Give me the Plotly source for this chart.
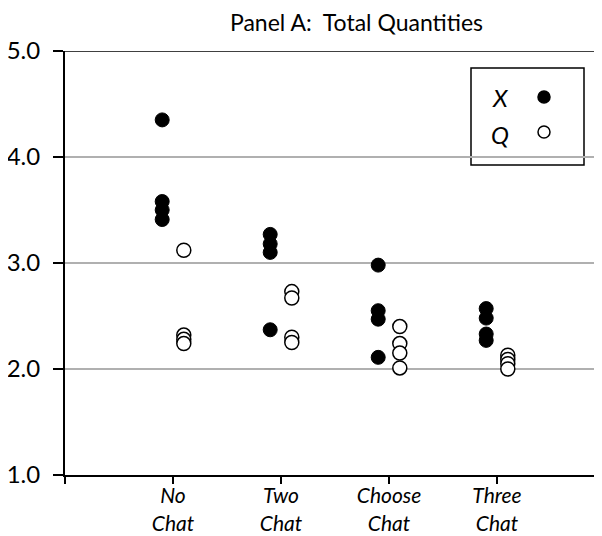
import plotly.graph_objects as go

categories = ["No<br>Chat", "Two<br>Chat", "Choose<br>Chat", "Three<br>Chat"]
x_values = [
    [4.35, 3.58, 3.50, 3.41],
    [3.27, 3.18, 3.10, 2.37],
    [2.98, 2.55, 2.47, 2.11],
    [2.57, 2.48, 2.33, 2.27],
]
q_values = [
    [3.12, 2.32, 2.28, 2.24],
    [2.73, 2.67, 2.30, 2.25],
    [2.40, 2.24, 2.15, 2.01],
    [2.13, 2.09, 2.05, 2.00],
]
y_ticks = [1.0, 2.0, 3.0, 4.0, 5.0]
y_tick_text = ["1.0", "2.0", "3.0", "4.0", "5.0"]

FONT = "Lato"
off = 0.1

# the page body has an 8px margin, so the figure is drawn 8px right/down
OFF = 8
PAGE_W, PAGE_H = 602, 536
W, H = PAGE_W - OFF, PAGE_H - OFF
AX_L, AX_T, AX_B = 65, 51, 475          # page pixel positions of plot edges
L, T = AX_L - OFF, AX_T - OFF
B = PAGE_H - AX_B
R = 0
PW, PH = W - L - R, H - T - B


def px(x):
    return (x - AX_L) / PW


def py(y):
    return (AX_B - y) / PH


xs_x, ys_x, xs_q, ys_q = [], [], [], []
for i, (xv, qv) in enumerate(zip(x_values, q_values)):
    for v in xv:
        xs_x.append(i + 1 - off); ys_x.append(v)
    for v in qv:
        xs_q.append(i + 1 + off); ys_q.append(v)

fig = go.Figure()
fig.add_trace(go.Scatter(x=xs_x, y=ys_x, mode="markers", name="X",
                         marker=dict(size=14, color="black", line=dict(color="black", width=1)),
                         showlegend=False))
fig.add_trace(go.Scatter(x=xs_q, y=ys_q, mode="markers", name="Q",
                         marker=dict(size=14, color="white", line=dict(color="black", width=1.5)),
                         showlegend=False))

# legend drawn manually (text left, marker right)
fig.add_trace(go.Scatter(x=[px(544), px(544)], y=[py(97), py(132)], mode="markers",
                         xaxis="x2", yaxis="y2", showlegend=False, hoverinfo="skip",
                         marker=dict(size=12, color=["black", "white"],
                                     line=dict(color="black", width=1.5))))

fig.add_shape(type="rect", xref="paper", yref="paper",
              x0=px(471), x1=px(584), y0=py(165), y1=py(68),
              line=dict(color="black", width=1.5), fillcolor="white", layer="below")
fig.add_annotation(xref="paper", yref="paper", x=px(500), y=py(98),
                   xanchor="center", yanchor="middle",
                   text="<i>X</i>", showarrow=False, font=dict(family=FONT, size=24, color="black"))
fig.add_annotation(xref="paper", yref="paper", x=px(500), y=py(134),
                   xanchor="center", yanchor="middle",
                   text="<i>Q</i>", showarrow=False, font=dict(family=FONT, size=24, color="black"))

# title as an annotation, kept inside the figure
fig.add_annotation(xref="paper", yref="paper", x=px(356), y=py(22),
                   xanchor="center", yanchor="middle",
                   text="Panel A:  Total Quantities", showarrow=False,
                   font=dict(family=FONT, size=23, color="black"))

# top border line at 5.0
fig.add_shape(type="line", xref="paper", yref="y", x0=0, x1=1, y0=5, y1=5,
              line=dict(color="black", width=1.5))

fig.update_layout(
    width=W, height=H,
    margin=dict(l=L, r=R, t=T, b=B),
    paper_bgcolor="white", plot_bgcolor="white",
    xaxis=dict(range=[0, PW / 108], tickvals=[0, 1, 2, 3, 4],
               ticktext=[""] + [f"<i>{c}</i>" for c in categories],
               showgrid=False, zeroline=False, showline=True, linecolor="black", linewidth=2,
               ticks="outside", ticklen=7, tickcolor="black", tickwidth=1.5,
               ticklabelstandoff=-6, automargin=False,
               tickfont=dict(family=FONT, size=21, color="black")),
    yaxis=dict(range=[1, 5], tickvals=y_ticks, ticktext=y_tick_text,
               showgrid=True, gridcolor="#b0b0b0", gridwidth=1.5, zeroline=False,
               showline=True, linecolor="black", linewidth=2,
               ticks="outside", ticklen=10, tickcolor="black", tickwidth=1.5,
               ticklabelstandoff=8, automargin=False,
               tickfont=dict(family=FONT, size=24, color="black")),
    xaxis2=dict(range=[0, 1], overlaying="x", visible=False),
    yaxis2=dict(range=[0, 1], overlaying="y", visible=False),
)

fig.write_html("out.html")
